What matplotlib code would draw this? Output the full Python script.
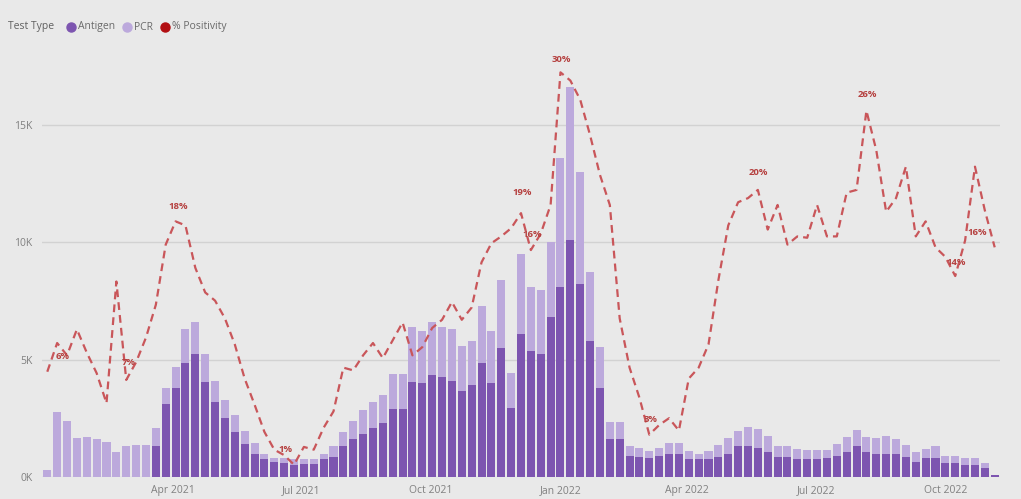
import matplotlib
matplotlib.use("Agg")
import matplotlib.pyplot as plt
import matplotlib.dates as mdates
from matplotlib.lines import Line2D
from matplotlib.ticker import FixedLocator, FuncFormatter
import pandas as pd
from datetime import datetime

plt.rcParams['font.family'] = ['Open Sans', 'DejaVu Sans']

# ---------------- data ----------------
week_start = "2021-01-02"
n_weeks = 97

antigen = [0, 0, 0, 0, 0, 0, 0, 0, 0, 0, 0,
           1300, 3100, 3800, 4850, 5250, 4050, 3200, 2500, 1900, 1400,
           1000, 750, 650, 600, 500, 550, 550, 750, 850, 1300,
           1600, 1850, 2100, 2300, 2900, 2900, 4050, 4000, 4350, 4250,
           4100, 3650, 3900, 4850, 4000, 5500, 2950, 6100, 5350, 5250,
           6800, 8100, 10100, 8200, 5800, 3800, 1600, 1600, 900, 850,
           800, 900, 1000, 1000, 750, 750, 750, 850, 1000, 1300,
           1300, 1250, 1050, 850, 850, 750, 750, 750, 800, 900,
           1050, 1300, 1050, 1000, 1000, 1000, 850, 650, 800, 800,
           600, 600, 500, 500, 400, 100]

pcr = [300, 2750, 2400, 1650, 1700, 1600, 1500, 1050, 1300, 1350, 1350,
       800, 700, 900, 1450, 1350, 1200, 900, 800, 750, 550,
       450, 250, 150, 200, 250, 200, 200, 250, 450, 600,
       800, 1000, 1100, 1200, 1500, 1500, 2350, 2200, 2250, 2150,
       2200, 1950, 1900, 2450, 2200, 2900, 1500, 3400, 2750, 2700,
       3200, 5500, 6500, 4800, 2950, 1750, 750, 750, 400, 400,
       300, 350, 450, 450, 350, 250, 350, 500, 650, 650,
       850, 800, 700, 450, 450, 450, 400, 400, 350, 500,
       650, 700, 650, 650, 750, 600, 500, 400, 400, 500,
       300, 300, 300, 300, 200, 0]

positivity = [7.7, 9.8, 8.9, 10.8, 9.1, 7.6, 5.4, 14.3, 7.1, 8.4,
              10.2, 12.6, 17.0, 18.7, 18.4, 15.3, 13.5, 12.9, 11.6, 9.7,
              7.2, 5.3, 3.3, 2.0, 1.6, 0.9, 2.2, 2.0, 3.6, 4.8,
              8.0, 7.8, 8.9, 9.8, 8.7, 10.0, 11.3, 8.9, 9.5, 10.9,
              11.5, 12.8, 11.5, 12.4, 15.7, 17.1, 17.6, 18.2, 19.3, 16.6,
              17.8, 19.9, 29.6, 29.0, 27.6, 25.0, 22.1, 19.9, 11.6, 8.0,
              5.8, 3.1, 3.8, 4.3, 3.4, 7.2, 8.0, 9.7, 14.4, 18.4,
              20.1, 20.4, 21.0, 18.1, 19.9, 17.0, 17.6, 17.5, 19.9, 17.6,
              17.6, 20.8, 21.0, 26.8, 23.9, 19.4, 20.4, 22.7, 17.6, 18.7,
              16.8, 16.1, 14.7, 17.3, 22.7, 19.5, 16.8]

label_week = [2, 9, 14, 26, 49, 50, 53, 62, 73, 84, 93, 97]
label_text = ["6%", "7%", "18%", "1%", "19%", "16%", "30%", "3%", "20%", "26%", "14%", "16%"]
label_offset = [(5, -13), (2, 17), (3, 15), (-9, 15), (1, 21), (1, 16), (1, 13),
                (1, 15), (0, 17), (1, 16), (1, 14), (-18, 15)]

y_ticks = [0, 5000, 10000, 15000]
x_tick_dates = ["2021-04-01", "2021-07-01", "2021-10-01", "2022-01-01",
                "2022-04-01", "2022-07-01", "2022-10-01"]

# ---------------- style ----------------
BG = "#e9e9e9"
ANTIGEN = "#7d55b0"
PCR = "#bca9dc"
LINE = "#c9565a"
LABEL = "#b5403f"
LEGEND_RED = "#b20f12"
GRID = "#d2d2d2"
TXT = "#808080"

weeks = pd.date_range(week_start, periods=n_weeks, freq="7D")
pos_frac = [p / 100 for p in positivity]

fig = plt.figure(figsize=(10.21, 4.99), dpi=100, facecolor=BG)
ax = fig.add_axes([42 / 1021, 22 / 499, 958 / 1021, 432 / 499])
ax.set_facecolor(BG)

ax.bar(weeks, antigen, width=5.7, color=ANTIGEN, zorder=2)
ax.bar(weeks, pcr, width=5.7, bottom=antigen, color=PCR, zorder=2)

ax.set_ylim(0, 18400)
ax.set_xlim(datetime(2020, 12, 29, 6), datetime(2022, 11, 8, 18))
ax.yaxis.set_major_locator(FixedLocator(y_ticks))
ax.yaxis.set_major_formatter(FuncFormatter(lambda v, p: f"{int(v/1000)}K"))
ax.set_xticks([pd.Timestamp(d) for d in x_tick_dates])
ax.xaxis.set_major_formatter(mdates.DateFormatter("%b %Y"))
ax.tick_params(axis="both", length=0, colors=TXT, labelsize=7.5)
ax.tick_params(axis="y", pad=7)
ax.tick_params(axis="x", pad=6)
ax.grid(axis="y", color=GRID, linewidth=1.0, zorder=0)
ax.set_axisbelow(True)
for s in ax.spines.values():
    s.set_visible(False)

ax2 = ax.twinx()
ax2.set_ylim(0, 0.316)
ax2.set_yticks([])
for s in ax2.spines.values():
    s.set_visible(False)
ax2.plot(weeks, pos_frac, color=LINE, linewidth=1.6, linestyle=(0, (3.5, 2.3)), zorder=3)

for wk, txt, off in zip(label_week, label_text, label_offset):
    i = wk - 1
    ax2.annotate(txt, (weeks[i], pos_frac[i]), xytext=off, textcoords="offset pixels",
                 ha="center", va="center", fontsize=6.8, color=LABEL,
                 fontweight="bold", annotation_clip=False)

# legend
ly = 1 - 27 / 499
fig.text(8 / 1021, ly, "Test Type", fontsize=7.5, color="#606060", va="center", ha="left")
items = [(71, ANTIGEN, "Antigen"), (127, PCR, "PCR"), (165, LEGEND_RED, "% Positivity")]
for x, c, t in items:
    fig.add_artist(Line2D([x / 1021], [ly], marker="o", markersize=6.5, color=c,
                          linestyle="none", transform=fig.transFigure))
    fig.text((x + 7) / 1021, ly, t, fontsize=7.5, color="#6a6a6a", va="center", ha="left")

fig.savefig("out.png", dpi=100, facecolor=BG)
